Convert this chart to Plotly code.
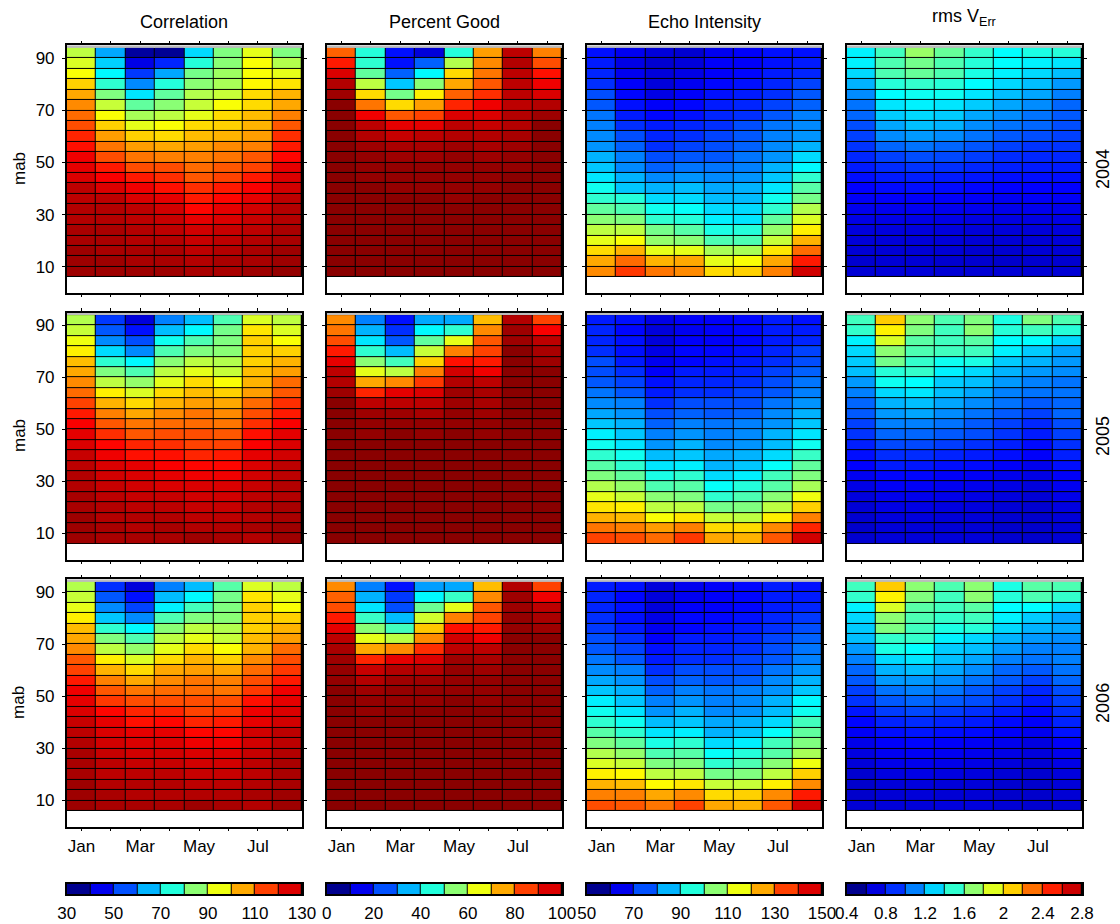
import plotly.graph_objects as go

# ---------------- data ----------------
month_idx = [1, 2, 3, 4, 5, 6, 7, 8]
month_text = ['Jan', '', 'Mar', '', 'May', '', 'Jul', '']
mab = [92, 88, 84, 80, 76, 72, 68, 64, 60, 56, 52, 48, 44, 40, 36, 32, 28, 24, 20, 16, 12, 8]  # top -> bottom
years = ['2004', '2005', '2006']
variables = ['Correlation', 'Percent Good', 'Echo Intensity', 'rms V<sub>Err</sub>']

corr_2004 = [
    [86, 59, 33, 32, 64, 80, 90, 80],
    [89, 63, 40, 46, 71, 81, 92, 85],
    [92, 67, 48, 59, 79, 83, 92, 90],
    [97, 72, 56, 71, 81, 84, 93, 95],
    [101, 80, 65, 77, 85, 87, 96, 100],
    [104, 87, 77, 81, 87, 92, 96, 101],
    [107, 92, 84, 86, 90, 96, 99, 105],
    [110, 97, 90, 92, 96, 97, 100, 109],
    [114, 102, 97, 96, 99, 100, 102, 113],
    [116, 106, 102, 101, 102, 104, 105, 115],
    [119, 110, 106, 105, 105, 106, 109, 117],
    [120, 115, 110, 110, 107, 109, 111, 120],
    [121, 118, 115, 113, 109, 111, 115, 121],
    [124, 121, 119, 116, 113, 115, 118, 122],
    [124, 124, 121, 120, 115, 117, 120, 124],
    [125, 125, 124, 122, 117, 120, 122, 125],
    [125, 125, 124, 123, 120, 121, 123, 125],
    [126, 126, 125, 124, 122, 123, 124, 126],
    [126, 126, 125, 125, 123, 124, 125, 126],
    [127, 126, 126, 126, 124, 125, 126, 127],
    [127, 127, 126, 126, 125, 126, 126, 127],
    [127, 127, 127, 127, 126, 126, 127, 128],
]
corr_2005 = [
    [85, 48, 39, 55, 61, 75, 89, 86],
    [87, 51, 44, 61, 67, 79, 95, 89],
    [91, 56, 50, 69, 75, 80, 97, 92],
    [94, 64, 56, 75, 80, 81, 97, 97],
    [99, 72, 67, 81, 86, 85, 97, 100],
    [101, 80, 75, 86, 90, 87, 99, 102],
    [104, 86, 82, 90, 96, 92, 100, 107],
    [107, 94, 89, 96, 99, 97, 102, 109],
    [111, 100, 96, 100, 102, 101, 107, 113],
    [115, 105, 101, 104, 106, 104, 110, 115],
    [118, 109, 106, 107, 107, 106, 113, 118],
    [120, 113, 109, 110, 110, 109, 116, 120],
    [121, 117, 114, 113, 111, 111, 118, 121],
    [123, 119, 116, 116, 114, 115, 120, 122],
    [124, 121, 120, 118, 117, 117, 121, 124],
    [125, 122, 121, 120, 119, 119, 122, 124],
    [125, 123, 122, 121, 121, 121, 123, 125],
    [126, 124, 123, 123, 122, 122, 124, 125],
    [126, 125, 124, 124, 123, 123, 125, 126],
    [127, 125, 125, 125, 124, 124, 125, 126],
    [127, 126, 125, 126, 125, 125, 126, 127],
    [127, 126, 126, 126, 127, 126, 125, 127],
]
corr_2006 = [
    [85, 47, 39, 55, 61, 76, 89, 86],
    [87, 51, 44, 61, 67, 79, 95, 90],
    [90, 56, 49, 66, 74, 80, 97, 92],
    [94, 62, 56, 75, 80, 81, 97, 97],
    [99, 72, 67, 81, 86, 85, 97, 100],
    [101, 80, 75, 86, 90, 87, 99, 102],
    [104, 86, 82, 90, 96, 92, 100, 107],
    [109, 94, 89, 96, 100, 97, 104, 110],
    [111, 100, 96, 101, 102, 101, 107, 112],
    [115, 105, 101, 104, 106, 105, 110, 115],
    [119, 109, 106, 107, 107, 106, 112, 119],
    [120, 112, 110, 110, 110, 110, 116, 120],
    [121, 117, 114, 114, 111, 112, 119, 121],
    [123, 120, 116, 117, 114, 115, 120, 122],
    [124, 121, 120, 120, 117, 117, 122, 124],
    [125, 122, 121, 121, 119, 119, 122, 124],
    [126, 123, 122, 122, 121, 121, 123, 125],
    [126, 124, 123, 123, 122, 122, 124, 126],
    [126, 124, 124, 124, 123, 123, 124, 126],
    [127, 125, 125, 125, 124, 124, 125, 126],
    [127, 126, 125, 125, 125, 125, 126, 127],
    [127, 126, 126, 126, 127, 126, 125, 127],
]

pg_2004 = [
    [78, 41, 14, 9, 41, 72, 94, 75],
    [85, 42, 14, 22, 55, 74, 95, 80],
    [91, 47, 22, 37, 66, 76, 94, 86],
    [95, 56, 32, 51, 71, 79, 94, 89],
    [97, 66, 49, 64, 78, 83, 94, 91],
    [99, 76, 66, 72, 84, 89, 94, 95],
    [99, 89, 79, 81, 91, 91, 95, 97],
    [99, 94, 90, 90, 94, 93, 95, 99],
    [99, 95, 93, 94, 95, 95, 96, 99],
    [99, 97, 96, 96, 97, 96, 97, 99],
    [99, 98, 97, 97, 98, 97, 98, 99],
    [99, 98, 98, 98, 98, 98, 98, 99],
    [99, 98, 98, 98, 98, 98, 99, 99],
    [99, 99, 98, 98, 98, 98, 99, 99],
    [99, 99, 99, 99, 98, 99, 99, 99],
    [99, 99, 99, 99, 99, 99, 99, 99],
    [99, 99, 99, 99, 99, 99, 99, 99],
    [99, 99, 99, 99, 99, 99, 99, 99],
    [99, 99, 99, 99, 99, 99, 99, 99],
    [99, 99, 99, 99, 99, 99, 99, 99],
    [99, 99, 99, 99, 99, 99, 99, 99],
    [99, 99, 99, 99, 99, 99, 99, 99],
]
pg_2005 = [
    [74, 25, 14, 29, 29, 69, 95, 81],
    [76, 30, 17, 37, 42, 74, 97, 88],
    [80, 35, 21, 47, 60, 79, 97, 94],
    [85, 42, 31, 57, 75, 81, 99, 96],
    [90, 51, 44, 67, 86, 85, 99, 97],
    [94, 60, 56, 75, 92, 89, 99, 99],
    [95, 71, 74, 82, 95, 94, 99, 99],
    [97, 84, 90, 91, 97, 96, 99, 99],
    [99, 94, 94, 94, 97, 96, 99, 99],
    [99, 97, 97, 96, 98, 97, 99, 99],
    [99, 98, 98, 98, 98, 98, 99, 99],
    [99, 98, 99, 98, 99, 98, 99, 99],
    [99, 99, 99, 99, 99, 99, 99, 99],
    [99, 99, 99, 99, 99, 99, 99, 99],
    [99, 99, 99, 99, 99, 99, 99, 99],
    [99, 99, 99, 99, 99, 99, 99, 99],
    [99, 99, 99, 99, 99, 99, 99, 99],
    [99, 99, 99, 99, 99, 99, 99, 99],
    [99, 99, 99, 99, 99, 99, 99, 99],
    [99, 99, 99, 99, 99, 99, 99, 99],
    [99, 99, 99, 99, 99, 99, 99, 99],
    [99, 99, 99, 99, 99, 99, 99, 99],
]
pg_2006 = [
    [74, 25, 14, 28, 29, 69, 95, 81],
    [78, 30, 18, 37, 43, 74, 97, 89],
    [80, 35, 20, 48, 60, 79, 97, 94],
    [85, 43, 31, 58, 75, 81, 98, 96],
    [90, 51, 44, 68, 86, 85, 98, 97],
    [94, 60, 56, 74, 92, 89, 99, 99],
    [96, 71, 74, 83, 94, 94, 99, 99],
    [97, 84, 90, 91, 97, 96, 99, 99],
    [98, 93, 95, 95, 98, 97, 99, 99],
    [98, 95, 97, 97, 98, 98, 99, 99],
    [99, 97, 98, 98, 98, 98, 99, 99],
    [99, 98, 98, 98, 99, 98, 99, 99],
    [99, 98, 99, 99, 99, 99, 99, 99],
    [99, 99, 99, 99, 99, 99, 99, 99],
    [99, 99, 99, 99, 99, 99, 99, 99],
    [99, 99, 99, 99, 99, 99, 99, 99],
    [99, 99, 99, 99, 99, 99, 99, 99],
    [99, 99, 99, 99, 99, 99, 99, 99],
    [99, 99, 99, 99, 99, 99, 99, 99],
    [99, 99, 99, 99, 99, 99, 99, 99],
    [99, 99, 99, 99, 99, 99, 99, 99],
    [99, 99, 99, 99, 99, 99, 99, 99],
]

echo_2004 = [
    [64, 61, 59, 58, 61, 62, 64, 64],
    [65, 60, 58, 59, 62, 62, 64, 65],
    [66, 61, 59, 60, 62, 63, 65, 66],
    [67, 62, 59, 61, 63, 64, 66, 69],
    [70, 63, 60, 62, 64, 65, 67, 71],
    [71, 64, 62, 63, 65, 66, 69, 72],
    [74, 65, 63, 64, 66, 67, 71, 75],
    [75, 67, 65, 66, 67, 70, 74, 76],
    [76, 70, 66, 67, 69, 71, 75, 77],
    [77, 72, 67, 69, 70, 72, 76, 80],
    [80, 75, 70, 71, 71, 74, 77, 84],
    [82, 76, 72, 74, 74, 75, 80, 87],
    [85, 80, 76, 77, 76, 77, 82, 92],
    [89, 82, 80, 81, 79, 80, 85, 96],
    [92, 91, 84, 84, 81, 81, 89, 99],
    [97, 95, 89, 88, 84, 84, 92, 105],
    [101, 100, 92, 91, 86, 85, 97, 109],
    [106, 106, 99, 96, 90, 91, 102, 114],
    [110, 112, 102, 101, 95, 95, 107, 120],
    [116, 120, 110, 110, 104, 104, 115, 127],
    [121, 127, 120, 121, 110, 112, 121, 135],
    [124, 132, 126, 124, 116, 117, 125, 142],
]
echo_2005 = [
    [65, 64, 60, 62, 62, 63, 65, 64],
    [66, 63, 59, 61, 62, 63, 65, 65],
    [66, 64, 59, 62, 62, 63, 65, 66],
    [67, 64, 60, 63, 63, 64, 66, 69],
    [70, 65, 61, 63, 64, 65, 67, 70],
    [70, 67, 62, 65, 65, 66, 69, 72],
    [71, 69, 64, 66, 66, 67, 70, 74],
    [74, 71, 65, 67, 67, 69, 71, 75],
    [76, 75, 67, 70, 70, 70, 74, 77],
    [79, 77, 70, 72, 71, 72, 76, 80],
    [82, 80, 72, 75, 74, 75, 77, 82],
    [86, 82, 75, 77, 75, 76, 80, 85],
    [89, 85, 77, 80, 76, 77, 81, 89],
    [92, 89, 81, 82, 79, 80, 84, 93],
    [96, 92, 85, 86, 80, 82, 88, 97],
    [100, 97, 90, 92, 84, 86, 94, 100],
    [105, 102, 95, 96, 88, 91, 96, 104],
    [110, 107, 101, 100, 92, 95, 101, 111],
    [115, 114, 106, 106, 99, 100, 106, 117],
    [120, 119, 112, 115, 107, 106, 114, 125],
    [126, 125, 122, 125, 116, 116, 124, 134],
    [131, 130, 127, 132, 121, 120, 129, 142],
]
echo_2006 = [
    [65, 64, 59, 61, 62, 63, 65, 64],
    [66, 63, 59, 61, 62, 63, 65, 65],
    [66, 64, 59, 62, 62, 63, 65, 66],
    [67, 64, 60, 63, 63, 64, 66, 68],
    [68, 65, 61, 63, 64, 65, 67, 70],
    [70, 67, 62, 65, 65, 66, 69, 72],
    [71, 69, 64, 66, 66, 67, 70, 74],
    [74, 71, 65, 67, 67, 69, 71, 75],
    [76, 75, 67, 70, 70, 70, 74, 77],
    [79, 77, 70, 72, 71, 72, 76, 80],
    [82, 80, 72, 75, 74, 75, 77, 82],
    [86, 82, 75, 77, 75, 76, 80, 87],
    [89, 85, 77, 80, 76, 77, 81, 89],
    [92, 89, 81, 82, 79, 80, 84, 94],
    [96, 92, 85, 86, 80, 82, 88, 97],
    [100, 97, 90, 92, 84, 86, 94, 100],
    [105, 102, 95, 96, 88, 91, 96, 104],
    [109, 107, 100, 100, 92, 95, 101, 111],
    [114, 113, 106, 106, 99, 100, 106, 117],
    [120, 119, 113, 115, 107, 107, 114, 124],
    [125, 125, 121, 124, 116, 117, 124, 135],
    [130, 129, 126, 131, 121, 120, 129, 142],
]

rms_2004 = [
    [1.27, 1.45, 1.66, 1.54, 1.42, 1.30, 1.36, 1.39],
    [1.27, 1.48, 1.57, 1.48, 1.39, 1.30, 1.27, 1.24],
    [1.21, 1.48, 1.54, 1.48, 1.36, 1.27, 1.21, 1.15],
    [1.12, 1.39, 1.42, 1.39, 1.30, 1.21, 1.15, 1.06],
    [1.03, 1.30, 1.33, 1.33, 1.24, 1.15, 1.09, 1.00],
    [0.97, 1.24, 1.27, 1.24, 1.18, 1.09, 1.03, 0.94],
    [0.94, 1.18, 1.21, 1.18, 1.09, 1.03, 0.97, 0.91],
    [0.88, 1.09, 1.15, 1.12, 1.03, 0.97, 0.94, 0.88],
    [0.85, 1.03, 1.06, 1.03, 0.97, 0.91, 0.88, 0.85],
    [0.82, 0.94, 0.97, 0.94, 0.90, 0.85, 0.82, 0.82],
    [0.79, 0.85, 0.88, 0.87, 0.84, 0.80, 0.79, 0.79],
    [0.76, 0.80, 0.82, 0.81, 0.79, 0.77, 0.76, 0.76],
    [0.73, 0.76, 0.77, 0.76, 0.75, 0.73, 0.73, 0.73],
    [0.70, 0.72, 0.73, 0.72, 0.71, 0.70, 0.70, 0.70],
    [0.68, 0.69, 0.69, 0.69, 0.68, 0.67, 0.68, 0.68],
    [0.66, 0.66, 0.67, 0.66, 0.66, 0.65, 0.66, 0.66],
    [0.64, 0.64, 0.64, 0.64, 0.63, 0.63, 0.63, 0.64],
    [0.62, 0.62, 0.62, 0.62, 0.61, 0.61, 0.61, 0.62],
    [0.61, 0.61, 0.61, 0.61, 0.60, 0.60, 0.60, 0.61],
    [0.60, 0.60, 0.60, 0.60, 0.59, 0.59, 0.60, 0.60],
    [0.59, 0.60, 0.60, 0.59, 0.59, 0.58, 0.59, 0.59],
    [0.60, 0.61, 0.61, 0.60, 0.60, 0.60, 0.60, 0.60],
]
rms_2005 = [
    [1.45, 2.02, 1.63, 1.48, 1.60, 1.36, 1.60, 1.48],
    [1.42, 1.93, 1.60, 1.45, 1.63, 1.39, 1.45, 1.39],
    [1.27, 1.81, 1.51, 1.45, 1.51, 1.30, 1.30, 1.21],
    [1.21, 1.63, 1.48, 1.45, 1.45, 1.27, 1.18, 1.09],
    [1.18, 1.57, 1.42, 1.33, 1.36, 1.18, 1.12, 1.06],
    [1.15, 1.39, 1.42, 1.27, 1.21, 1.12, 1.06, 1.03],
    [1.06, 1.33, 1.30, 1.18, 1.15, 1.06, 1.00, 0.97],
    [1.00, 1.21, 1.24, 1.15, 1.09, 1.00, 0.97, 0.97],
    [0.94, 1.12, 1.15, 1.09, 1.03, 0.97, 0.91, 0.94],
    [0.91, 1.06, 1.09, 1.03, 0.97, 0.91, 0.85, 0.94],
    [0.85, 1.00, 1.00, 0.97, 0.91, 0.85, 0.79, 0.88],
    [0.82, 0.94, 0.94, 0.91, 0.88, 0.82, 0.76, 0.85],
    [0.77, 0.87, 0.87, 0.84, 0.81, 0.77, 0.72, 0.81],
    [0.73, 0.80, 0.80, 0.78, 0.76, 0.73, 0.69, 0.77],
    [0.70, 0.76, 0.75, 0.73, 0.72, 0.69, 0.66, 0.73],
    [0.67, 0.71, 0.71, 0.69, 0.68, 0.66, 0.64, 0.69],
    [0.64, 0.68, 0.68, 0.67, 0.66, 0.64, 0.62, 0.67],
    [0.62, 0.66, 0.66, 0.65, 0.64, 0.62, 0.60, 0.65],
    [0.60, 0.64, 0.64, 0.63, 0.62, 0.60, 0.59, 0.63],
    [0.59, 0.62, 0.62, 0.61, 0.61, 0.59, 0.58, 0.61],
    [0.58, 0.61, 0.61, 0.60, 0.60, 0.58, 0.58, 0.60],
    [0.59, 0.61, 0.61, 0.61, 0.61, 0.59, 0.58, 0.60],
]
rms_2006 = [
    [1.45, 2.02, 1.63, 1.48, 1.63, 1.36, 1.51, 1.48],
    [1.42, 1.93, 1.60, 1.45, 1.63, 1.39, 1.48, 1.42],
    [1.27, 1.81, 1.51, 1.45, 1.51, 1.30, 1.30, 1.21],
    [1.21, 1.63, 1.48, 1.42, 1.45, 1.27, 1.18, 1.09],
    [1.18, 1.60, 1.45, 1.36, 1.39, 1.21, 1.12, 1.09],
    [1.15, 1.42, 1.42, 1.27, 1.21, 1.12, 1.06, 1.03],
    [1.06, 1.36, 1.30, 1.18, 1.15, 1.06, 1.00, 1.00],
    [1.00, 1.21, 1.24, 1.15, 1.09, 1.00, 0.97, 1.00],
    [0.94, 1.12, 1.15, 1.09, 1.03, 0.94, 0.91, 0.97],
    [0.91, 1.06, 1.06, 1.03, 0.97, 0.91, 0.85, 0.94],
    [0.85, 0.97, 1.00, 0.97, 0.91, 0.85, 0.79, 0.88],
    [0.82, 0.91, 0.94, 0.91, 0.88, 0.82, 0.76, 0.85],
    [0.75, 0.84, 0.87, 0.84, 0.81, 0.77, 0.72, 0.81],
    [0.71, 0.78, 0.80, 0.78, 0.76, 0.72, 0.69, 0.78],
    [0.68, 0.73, 0.75, 0.73, 0.72, 0.69, 0.66, 0.74],
    [0.65, 0.69, 0.71, 0.69, 0.68, 0.66, 0.63, 0.69],
    [0.63, 0.67, 0.68, 0.67, 0.66, 0.64, 0.62, 0.66],
    [0.61, 0.65, 0.66, 0.65, 0.64, 0.62, 0.60, 0.64],
    [0.59, 0.63, 0.64, 0.63, 0.62, 0.60, 0.59, 0.62],
    [0.58, 0.61, 0.62, 0.61, 0.61, 0.59, 0.58, 0.61],
    [0.58, 0.60, 0.61, 0.60, 0.60, 0.58, 0.58, 0.60],
    [0.60, 0.61, 0.61, 0.62, 0.62, 0.60, 0.59, 0.60],
]

panel_data = [
    [corr_2004, pg_2004, echo_2004, rms_2004],
    [corr_2005, pg_2005, echo_2005, rms_2005],
    [corr_2006, pg_2006, echo_2006, rms_2006],
]
z_limits = [(30, 130), (0, 100), (50, 150), (0.4, 2.8)]

# colour-bar scales (discrete blocks)
cbar_centers = [
    [35, 45, 55, 65, 75, 85, 95, 105, 115, 125],
    [5, 15, 25, 35, 45, 55, 65, 75, 85, 95],
    [55, 65, 75, 85, 95, 105, 115, 125, 135, 145],
    [0.5, 0.7, 0.9, 1.1, 1.3, 1.5, 1.7, 1.9, 2.1, 2.3, 2.5, 2.7],
]
cbar_ticks = [
    [30, 50, 70, 90, 110, 130],
    [0, 20, 40, 60, 80, 100],
    [50, 70, 90, 110, 130, 150],
    [0.4, 0.8, 1.2, 1.6, 2.0, 2.4, 2.8],
]
cbar_ticktext = [
    ['30', '50', '70', '90', '110', '130'],
    ['0', '20', '40', '60', '80', '100'],
    ['50', '70', '90', '110', '130', '150'],
    ['0.4', '0.8', '1.2', '1.6', '2', '2.4', '2.8'],
]
jet10 = ['#00008f', '#0000ee', '#0050ff', '#00b4ff', '#20ffdc', '#8cff72',
         '#eeff10', '#ffaa00', '#ff4000', '#dd0000']
jet12 = ['#00008f', '#0000e0', '#0030ff', '#0080ff', '#00d4ff', '#30ffd0',
         '#90ff70', '#e0ff20', '#ffd000', '#ff7000', '#ff2000', '#cc0000']
cbar_colors = [jet10, jet10, jet10, jet12]

# ---------------- styling / layout ----------------
W, H = 1120, 924
FONT = 'Liberation Sans, Arial, sans-serif'
jet = [[0.0, '#000080'], [0.125, '#0000ff'], [0.375, '#00ffff'],
       [0.625, '#ffff00'], [0.875, '#ff0000'], [1.0, '#800000']]

col_px = [(66.7, 302.0), (326.7, 562.0), (586.7, 822.0), (846.7, 1082.0)]
row_px = [(45.3, 292.7), (312.5, 559.5), (579.3, 826.5)]
cbar_py = (884.0, 894.0)
title_py = [22, 22, 22, 18]


def xdom(p):
    return [p[0] / W, p[1] / W]


def ydom(p):
    return [1 - p[1] / H, 1 - p[0] / H]


fig = go.Figure()
layout = {}
shapes = []
annotations = []

axis_common = dict(showline=True, linecolor='black', linewidth=1.5, mirror='ticks',
                   ticks='outside', ticklen=3, tickwidth=1, tickcolor='black',
                   showgrid=False, zeroline=False, fixedrange=True, automargin=False,
                   tickfont=dict(family=FONT, size=17, color='black'))

k = 0
for r in range(3):
    for c in range(4):
        k += 1
        xn = 'x' if k == 1 else f'x{k}'
        yn = 'y' if k == 1 else f'y{k}'
        xk = 'xaxis' if k == 1 else f'xaxis{k}'
        yk = 'yaxis' if k == 1 else f'yaxis{k}'
        z = panel_data[r][c]
        zmin, zmax = z_limits[c]
        fig.add_trace(go.Heatmap(
            x=month_idx, y=mab[::-1], z=z[::-1], colorscale=jet, zmin=zmin, zmax=zmax,
            showscale=False, xgap=1, ygap=1, xaxis=xn, yaxis=yn, hoverinfo='skip'))
        layout[xk] = dict(axis_common, domain=xdom(col_px[c]), anchor=yn, range=[0.5, 8.5],
                          tickvals=month_idx,
                          ticktext=month_text if r == 2 else [''] * 8,
                          showticklabels=(r == 2), ticklabelstandoff=0)
        layout[yk] = dict(axis_common, domain=ydom(row_px[r]), anchor=xn, range=[0, 95],
                          tickvals=[10, 30, 50, 70, 90],
                          showticklabels=(c == 0), ticklabelstandoff=4)
        shapes.append(dict(type='rect', xref=xn, yref=yn, x0=0.5, x1=8.5, y0=6, y1=94,
                           fillcolor='black', line=dict(width=0), layer='below'))
        shapes.append(dict(type='rect', xref=xn, yref=yn, x0=0.5, x1=8.5, y0=94, y1=95,
                           fillcolor='#bcbcbc', line=dict(width=0), layer='below'))

# colour bars
for c in range(4):
    k += 1
    xn, yn = f'x{k}', f'y{k}'
    cols = cbar_colors[c]
    n = len(cols)
    cs = []
    for i, col in enumerate(cols):
        cs.append([i / n, col])
        cs.append([(i + 1) / n, col])
    fig.add_trace(go.Heatmap(
        x=cbar_centers[c], y=[0], z=[list(range(n))], colorscale=cs,
        zmin=-0.5, zmax=n - 0.5, showscale=False, xgap=1,
        xaxis=xn, yaxis=yn, hoverinfo='skip'))
    lo, hi = z_limits[c]
    layout[f'xaxis{k}'] = dict(domain=xdom(col_px[c]), anchor=yn, range=[lo, hi],
                               tickvals=cbar_ticks[c], ticktext=cbar_ticktext[c],
                               ticks='', showline=True, linecolor='black', linewidth=1.5,
                               mirror=True, showgrid=False, zeroline=False, fixedrange=True,
                               ticklabelstandoff=3, automargin=False,
                               tickfont=dict(family=FONT, size=17, color='black'))
    layout[f'yaxis{k}'] = dict(domain=ydom(cbar_py), anchor=xn, range=[-0.5, 0.5],
                               showticklabels=False, ticks='', showline=True,
                               linecolor='black', linewidth=1.5, mirror=True, automargin=False,
                               showgrid=False, zeroline=False, fixedrange=True)
    shapes.append(dict(type='rect', xref=xn, yref=yn, x0=lo, x1=hi, y0=-0.5, y1=0.5,
                       fillcolor='black', line=dict(width=0), layer='below'))

# column titles
for c, name in enumerate(variables):
    cx = (col_px[c][0] + col_px[c][1]) / 2 / W
    annotations.append(dict(text=name, x=cx, y=1 - title_py[c] / H, xref='paper', yref='paper',
                            showarrow=False, xanchor='center', yanchor='middle',
                            font=dict(family=FONT, size=18, color='black')))

# row labels
for r, yr in enumerate(years):
    cy = 1 - (row_px[r][0] + row_px[r][1]) / 2 / H
    annotations.append(dict(text='mab', x=19 / W, y=cy, xref='paper', yref='paper',
                            showarrow=False, textangle=-90, xanchor='center', yanchor='middle',
                            font=dict(family=FONT, size=17, color='black')))
    annotations.append(dict(text=yr, x=1103 / W, y=cy, xref='paper', yref='paper',
                            showarrow=False, textangle=-90, xanchor='center', yanchor='middle',
                            font=dict(family=FONT, size=18, color='black')))

fig.update_layout(**layout)
fig.update_layout(width=W, height=H, margin=dict(l=0, r=0, t=0, b=0, autoexpand=False),
                  paper_bgcolor='white', plot_bgcolor='white',
                  shapes=shapes, annotations=annotations, showlegend=False,
                  font=dict(family=FONT, color='black'))
fig.write_html('out.html', config={'displayModeBar': False})
